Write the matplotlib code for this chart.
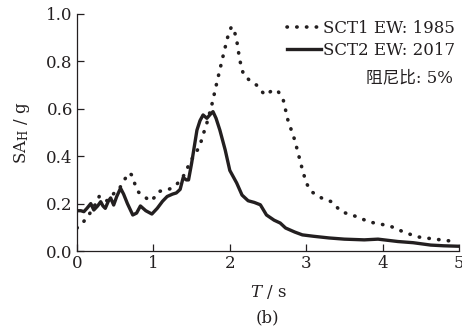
import matplotlib
matplotlib.use("Agg")
import matplotlib.pyplot as plt

# SCT1 EW 1985 (dotted)
t_1985 = [0, 0.04, 0.08, 0.12, 0.15, 0.19, 0.22, 0.26, 0.29, 0.33, 0.37, 0.41, 0.45, 0.5,
          0.55, 0.6, 0.64, 0.68, 0.72, 0.76, 0.8, 0.85, 0.9, 0.96, 1.01, 1.06, 1.12, 1.17,
          1.24, 1.30, 1.36, 1.42, 1.48, 1.55, 1.61, 1.66, 1.70, 1.76, 1.83, 1.91, 1.97,
          2.02, 2.05, 2.09, 2.13, 2.18, 2.26, 2.35, 2.46, 2.52, 2.57, 2.63, 2.70, 2.76,
          2.85, 2.94, 3.0, 3.07, 3.2, 3.33, 3.46, 3.66, 3.83, 3.92, 4.1, 4.27, 4.45, 4.66, 4.97]
sa_1985 = [0.097, 0.11, 0.12, 0.14, 0.15, 0.17, 0.19, 0.2, 0.23, 0.22, 0.21, 0.215, 0.23, 0.25,
           0.26, 0.29, 0.31, 0.33, 0.32, 0.28, 0.25, 0.236, 0.225, 0.21, 0.225, 0.25, 0.255, 0.257,
           0.265, 0.28, 0.3, 0.33, 0.377, 0.41, 0.447, 0.5, 0.54, 0.61, 0.71, 0.82, 0.90,
           0.946, 0.94, 0.89, 0.806, 0.743, 0.72, 0.70, 0.658, 0.67, 0.68, 0.675, 0.637, 0.553,
           0.468, 0.356, 0.287, 0.25, 0.224, 0.208, 0.166, 0.145, 0.122, 0.117, 0.105, 0.081, 0.06, 0.051, 0.039]

# SCT2 EW 2017 (solid)
t_2017 = [0, 0.05, 0.09, 0.13, 0.18, 0.22, 0.27, 0.31, 0.34, 0.37, 0.41, 0.44, 0.48, 0.52,
          0.57, 0.61, 0.66, 0.73, 0.78, 0.83, 0.9, 0.98, 1.05, 1.12, 1.18, 1.25, 1.30, 1.35,
          1.39, 1.43, 1.46, 1.50, 1.54, 1.57, 1.61, 1.65, 1.70, 1.74, 1.78, 1.82, 1.87, 1.94,
          2.0, 2.09, 2.16, 2.24, 2.32, 2.40, 2.48, 2.58, 2.66, 2.73, 2.85, 2.95, 3.1, 3.3,
          3.5, 3.76, 3.94, 4.2, 4.4, 4.63, 4.8, 5.0]
sa_2017 = [0.17, 0.17, 0.166, 0.18, 0.20, 0.173, 0.19, 0.208, 0.19, 0.18, 0.21, 0.224, 0.194, 0.23,
           0.265, 0.24, 0.2, 0.152, 0.16, 0.19, 0.17, 0.156, 0.18, 0.21, 0.23, 0.24, 0.245, 0.26,
           0.31, 0.30, 0.30, 0.37, 0.45, 0.51, 0.55, 0.574, 0.56, 0.575, 0.588, 0.56, 0.51, 0.426,
           0.34, 0.287, 0.236, 0.212, 0.205, 0.195, 0.152, 0.13, 0.118, 0.097, 0.08, 0.068, 0.062, 0.055,
           0.05, 0.047, 0.05, 0.04, 0.035, 0.025, 0.022, 0.02]

x_ticks = [0, 1, 2, 3, 4, 5]
y_ticks = [0.0, 0.2, 0.4, 0.6, 0.8, 1.0]

plt.rcParams["font.family"] = ["DejaVu Serif", "Noto Sans CJK SC"]
plt.rcParams["mathtext.fontset"] = "dejavuserif"
plt.rcParams["font.size"] = 12

fig = plt.figure(figsize=(4.62, 3.33), dpi=100)
ax = fig.add_axes([77 / 462, 1 - 251 / 333, 382 / 462, 237 / 333])

ink = "#231f20"
ax.plot(t_1985, sa_1985, color=ink, lw=2.6, linestyle=(0, (0.1, 2.6)),
        dash_capstyle="round", label="SCT1 EW: 1985")
ax.plot(t_2017, sa_2017, color=ink, lw=2.4, label="SCT2 EW: 2017")

ax.set_xlim(0, 5)
ax.set_ylim(0, 1.0)
ax.set_xticks(x_ticks)
ax.set_yticks(y_ticks)
ax.set_yticklabels([f"{v:.1f}" for v in y_ticks])
for s in ("top", "right"):
    ax.spines[s].set_visible(False)
for s in ("left", "bottom"):
    ax.spines[s].set_color(ink)
    ax.spines[s].set_linewidth(0.9)
ax.tick_params(direction="in", length=5, width=0.9, color=ink, labelcolor=ink, pad=3)

ax.set_xlabel(r"$T$ / s", color=ink, labelpad=8)
ax.set_ylabel(r"SA$_\mathrm{H}$ / g", color=ink, labelpad=10)

leg = ax.legend(loc="upper right", bbox_to_anchor=(0.99, 0.975), frameon=False,
                borderpad=0, borderaxespad=0, handlelength=2.0, handletextpad=0.15,
                labelspacing=0.3)
for txt in leg.get_texts():
    txt.set_color(ink)
ax.text(0.985, 0.73, "阻尼比: 5%", transform=ax.transAxes, ha="right", va="center", color=ink)

fig.text(0.5 + 77 / 462 / 2 - 0.005, 1 - 318 / 333, "(b)", ha="center", va="center", color=ink)

fig.savefig("out.png", dpi=100)
